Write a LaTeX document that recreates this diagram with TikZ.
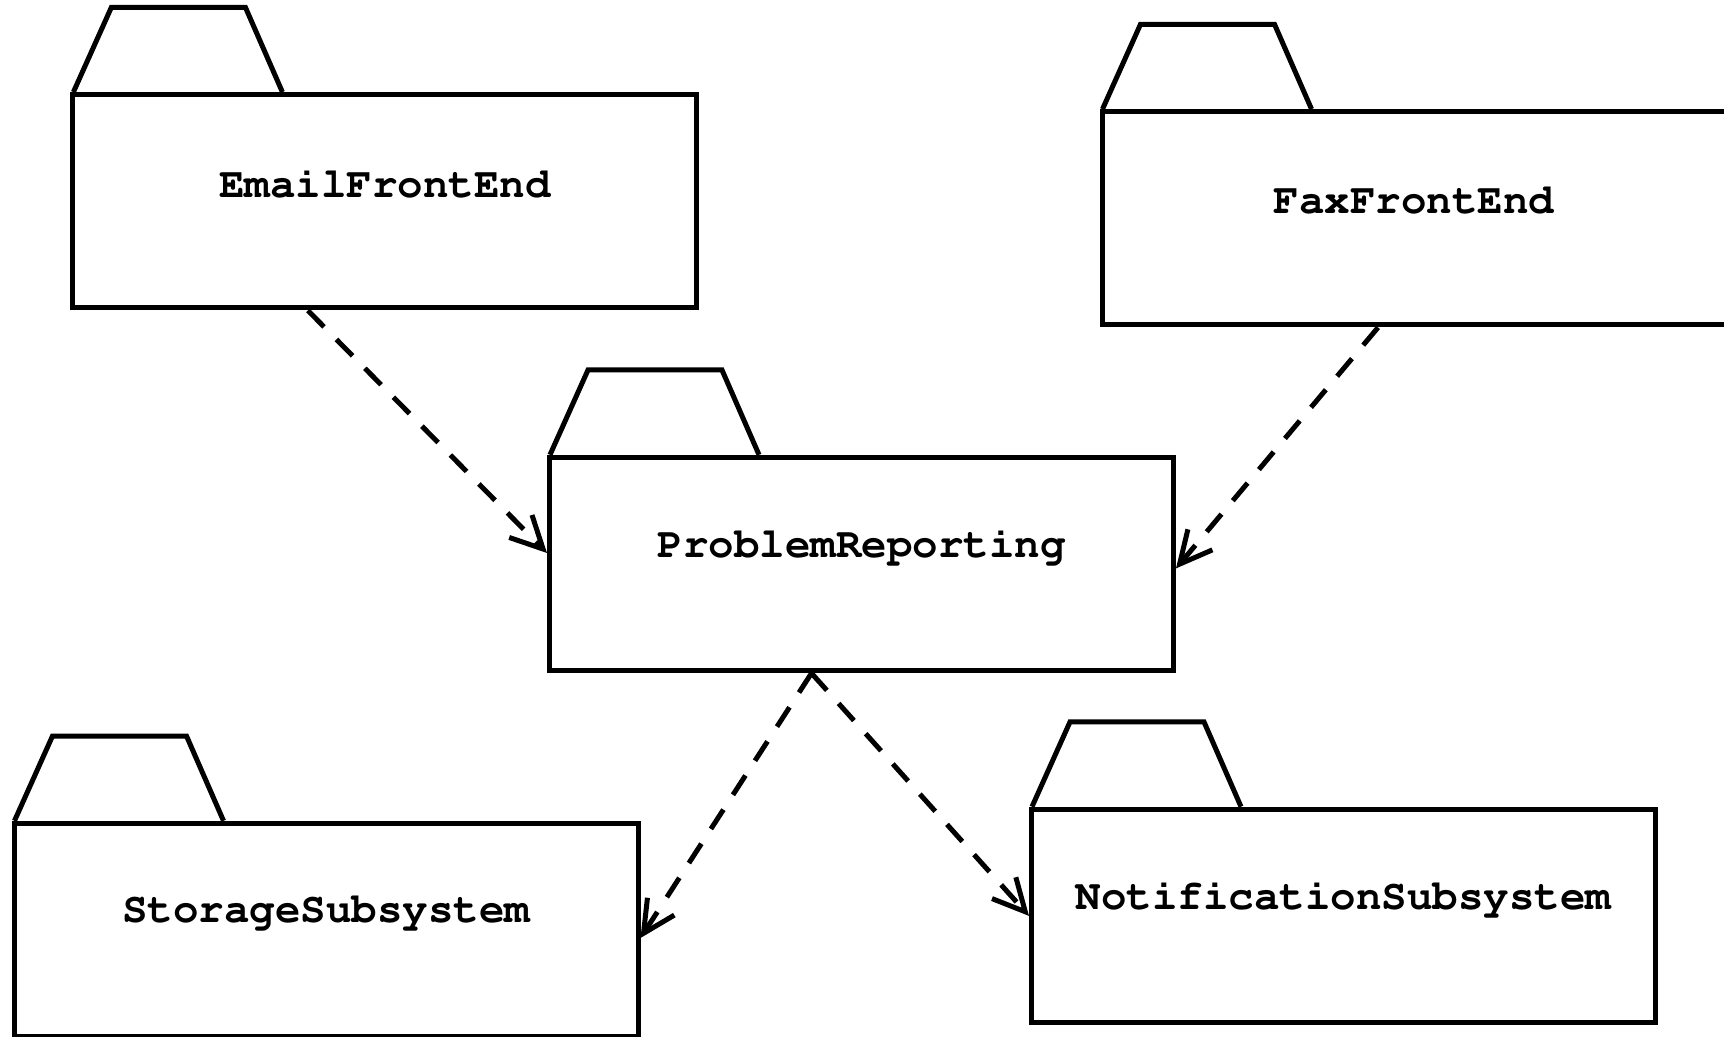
\documentclass[tikz,border=0pt]{standalone}
\usepackage[T1]{fontenc}
\usetikzlibrary{arrows.meta}

% folder tab on top of a package box
\newcommand{\pkgtab}[1]{%
  \draw [line width=2.5pt] ([xshift=1.5pt]#1.north west) -- ++(19pt,42.4pt) -- ++(67pt,0pt) -- ([xshift=106pt]#1.north west);}

\begin{document}
\begin{tikzpicture}[x=0.5pt, y=-0.5pt,
    pkg/.style={draw, line width=2.5pt, minimum width=312pt, minimum height=106.7pt, inner sep=0pt},
    pkgname/.style={font=\fontfamily{pcr}\bfseries\fontsize{21.25}{25}\selectfont, yshift=9pt},
    dep/.style={line width=2.5pt, dash pattern=on 11.5pt off 8.8pt, -{Straight Barb[length=16pt,width=16pt,line width=2.5pt]}}]
  \useasboundingbox (0,0) rectangle (1724,1037);

  % packages
  \node [pkg, label={[pkgname]center:EmailFrontEnd}] (email) at (384.9,201.3) {};
  \node [pkg, label={[pkgname]center:FaxFrontEnd}] (fax) at (1414,218.3) {};
  \node [pkg, label={[pkgname]center:ProblemReporting}] (report) at (861.5,564) {};
  \node [pkg, label={[pkgname]center:StorageSubsystem}] (storage) at (326,930) {};
  \node [pkg, label={[pkgname]center:NotificationSubsystem}] (notify) at (1343.5,915.9) {};

  \pkgtab{email}
  \pkgtab{fax}
  \pkgtab{report}
  \pkgtab{storage}
  \pkgtab{notify}

  % dependencies
  \draw [dep] ([xshift=-38.5pt]email.south) -- ([yshift=5.5pt]report.west);
  \draw [dep] ([xshift=-18pt]fax.south) -- ([yshift=-2.2pt]report.east);
  \draw [dep] ([xshift=-25pt]report.south) -- ([yshift=-4pt]storage.east);
  \draw [dep] ([xshift=-25pt]report.south) -- (notify.west);
\end{tikzpicture}
\end{document}
